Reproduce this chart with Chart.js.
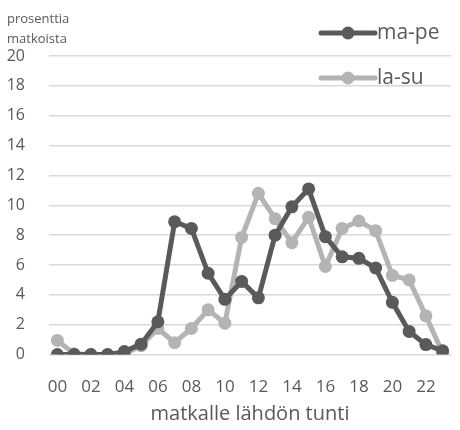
<!DOCTYPE html>
<html>
<head>
<meta charset="utf-8">
<script src="https://cdn.jsdelivr.net/npm/chart.js@4"></script>
<style>
  body { margin: 0; background: #fff; }
  #wrap { width: 460px; height: 430px; }
</style>
</head>
<body>
<div id="wrap"><canvas id="chart"></canvas></div>
<script>
const tunnit = ["00","01","02","03","04","05","06","07","08","09","10","11",
                "12","13","14","15","16","17","18","19","20","21","22","23"];
const arkipaivat = [0, 0, 0, 0, 0.2, 0.7, 2.2, 8.9, 8.45, 5.45, 3.7, 4.9,
                    3.8, 8.0, 9.9, 11.1, 7.9, 6.55, 6.45, 5.8, 3.5, 1.55, 0.67, 0.25];
const viikonloppu = [0.95, 0.05, 0, 0, 0.05, 0.6, 1.75, 0.8, 1.75, 3.0, 2.1, 7.85,
                     10.8, 9.1, 7.5, 9.2, 5.9, 8.45, 8.95, 8.3, 5.3, 5.0, 2.6, 0.1];
const sarjat = ["ma-pe", "la-su"];
const varit = ["#5a5a5a", "#b4b4b6"];
const tekstivari = "#595959";
const fontti = "'Open Sans', sans-serif";

// selite ja y-akselin otsikko piirretään itse
const omaSelite = {
    id: "omaSelite",
    afterDraw(chart) {
        const ctx = chart.ctx;
        ctx.save();
        ctx.fillStyle = tekstivari;
        ctx.font = "13px " + fontti;
        ctx.textBaseline = "middle";
        ctx.textAlign = "left";
        ctx.fillText("prosenttia", 7, 19);
        ctx.fillText("matkoista", 7, 39);

        const rivit = [33, 78];
        chart.data.datasets.forEach((ds, i) => {
            const y = rivit[i];
            ctx.strokeStyle = ds.borderColor;
            ctx.lineWidth = 5;
            ctx.lineCap = "round";
            ctx.beginPath();
            ctx.moveTo(321, y);
            ctx.lineTo(375, y);
            ctx.stroke();
            ctx.fillStyle = ds.borderColor;
            ctx.beginPath();
            ctx.arc(348, y, 6.5, 0, Math.PI * 2);
            ctx.fill();
            ctx.fillStyle = tekstivari;
            ctx.font = "21px " + fontti;
            ctx.fillText(ds.label, 377, y);
        });
        ctx.restore();
    }
};

new Chart(document.getElementById("chart"), {
    type: "line",
    data: {
        labels: tunnit,
        datasets: [
            { label: sarjat[0], data: arkipaivat, borderColor: varit[0], backgroundColor: varit[0] },
            { label: sarjat[1], data: viikonloppu, borderColor: varit[1], backgroundColor: varit[1] }
        ]
    },
    options: {
        responsive: true,
        maintainAspectRatio: false,
        animation: false,
        layout: { padding: { top: 56, right: 9, bottom: 4, left: 0 } },
        elements: {
            line: { borderWidth: 5, tension: 0 },
            point: { radius: 6.5, borderWidth: 0, hoverRadius: 6.5 }
        },
        plugins: {
            legend: { display: false },
            tooltip: { enabled: false }
        },
        scales: {
            x: {
                offset: true,
                grid: { display: false },
                border: { display: false },
                ticks: {
                    autoSkip: false,
                    maxRotation: 0,
                    color: tekstivari,
                    font: { family: fontti, size: 17 },
                    padding: 14,
                    callback: function (v, i) { return i % 2 ? "" : tunnit[i]; }
                },
                title: {
                    display: true,
                    text: "matkalle lähdön tunti",
                    color: tekstivari,
                    font: { family: fontti, size: 20 },
                    padding: { top: -9, bottom: 0 }
                }
            },
            y: {
                min: 0,
                max: 20,
                grid: { color: "#d9d9d9", lineWidth: 1.5, drawTicks: false },
                border: { display: false },
                ticks: {
                    stepSize: 2,
                    color: tekstivari,
                    font: { family: fontti, size: 16 },
                    padding: 24
                },
                afterFit: function (s) { s.width = 49; }
            }
        }
    },
    plugins: [omaSelite]
});
</script>
</body>
</html>
